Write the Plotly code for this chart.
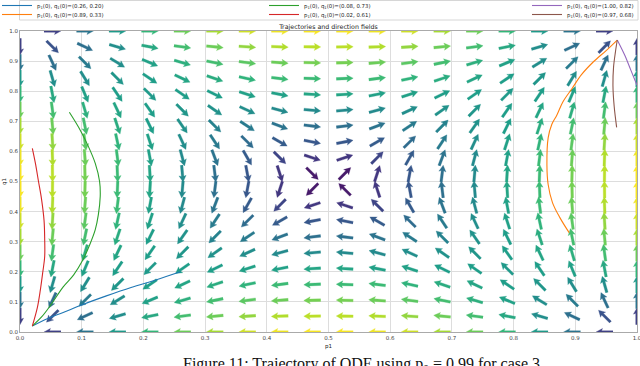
import numpy as np
import plotly.graph_objects as go
from plotly.colors import sample_colorscale

# ---------------- figure geometry ----------------
W, H = 640, 366
ML, MR, MT, MB = 20, 3, 31, 34
PW, PH = W - ML - MR, H - MT - MB

# ---------------- direction field parameters ----------------
grid_n = 20            # arrows per axis (linspace 0..1)
p_star = 0.5           # interior rest point (saddle)
q_star = 0.5

# ---------------- trajectories ----------------
traj_names = [
    "p<sub>1</sub>(0), q<sub>1</sub>(0)=(0.26, 0.20)",
    "p<sub>1</sub>(0), q<sub>1</sub>(0)=(0.89, 0.33)",
    "p<sub>1</sub>(0), q<sub>1</sub>(0)=(0.08, 0.73)",
    "p<sub>1</sub>(0), q<sub>1</sub>(0)=(0.02, 0.61)",
    "p<sub>1</sub>(0), q<sub>1</sub>(0)=(1.00, 0.82)",
    "p<sub>1</sub>(0), q<sub>1</sub>(0)=(0.97, 0.68)",
]
traj_colors = ["#1f77b4", "#ff7f0e", "#2ca02c", "#d62728", "#9467bd", "#8c564b"]

blue_p = [0.26, 0.22, 0.18, 0.14, 0.10, 0.07, 0.045, 0.02]
blue_q = [0.20, 0.173, 0.148, 0.12, 0.09, 0.065, 0.045, 0.02]

orange_p = [0.89, 0.875, 0.863, 0.856, 0.854, 0.856, 0.862, 0.87, 0.88, 0.895, 0.91, 0.929, 0.95, 0.968]
orange_q = [0.33, 0.38, 0.43, 0.49, 0.555, 0.645, 0.69, 0.72, 0.765, 0.81, 0.855, 0.897, 0.935, 0.97]

green_p = [0.08, 0.095, 0.11, 0.122, 0.129, 0.13, 0.127, 0.122, 0.113, 0.102, 0.087, 0.07, 0.05, 0.035, 0.02]
green_q = [0.73, 0.68, 0.62, 0.56, 0.50, 0.45, 0.39, 0.34, 0.29, 0.24, 0.19, 0.15, 0.09, 0.05, 0.02]

red_p = [0.02, 0.025, 0.03, 0.035, 0.039, 0.04, 0.04, 0.037, 0.033, 0.028, 0.02]
red_q = [0.61, 0.56, 0.50, 0.44, 0.37, 0.31, 0.25, 0.20, 0.14, 0.08, 0.02]

purple_p = [1.00, 0.99, 0.98, 0.968]
purple_q = [0.82, 0.87, 0.92, 0.97]

brown_p = [0.967, 0.963, 0.961, 0.962, 0.965, 0.968]
brown_q = [0.68, 0.75, 0.82, 0.88, 0.93, 0.97]

traj_p = [blue_p, orange_p, green_p, red_p, purple_p, brown_p]
traj_q = [blue_q, orange_q, green_q, red_q, purple_q, brown_q]

tick_vals = [0.0, 0.1, 0.2, 0.3, 0.4, 0.5, 0.6, 0.7, 0.8, 0.9, 1.0]
tick_text = ["0.0", "0.1", "0.2", "0.3", "0.4", "0.5", "0.6", "0.7", "0.8", "0.9", "1.0"]

# ---------------- arrow style (pixels) ----------------
ARROW_LEN = 17.0
SHAFT_W = 2.6
HEAD_W = 7.2
HEAD_LEN = 6.5
HEAD_AXIS = 5.6
N_BINS = 64

fig = go.Figure()

# direction field
gp = np.linspace(0, 1, grid_n)
P, Q = np.meshgrid(gp, gp)
DP = P * (1 - P) * (Q - q_star)
DQ = Q * (1 - Q) * (P - p_star)
M = np.hypot(DP, DQ)
mmin, mmax = M.min(), M.max()

sx, sy = PW / 1.0, PH / 1.0
L2 = ARROW_LEN / 2
outline = [(-L2, -SHAFT_W / 2), (L2 - HEAD_AXIS, -SHAFT_W / 2), (L2 - HEAD_LEN, -HEAD_W / 2),
           (L2, 0.0), (L2 - HEAD_LEN, HEAD_W / 2), (L2 - HEAD_AXIS, SHAFT_W / 2), (-L2, SHAFT_W / 2)]

bins = {}
for i in range(grid_n):
    for j in range(grid_n):
        m = M[i, j]
        if m <= 0:
            continue
        ux, uy = DP[i, j] / m, DQ[i, j] / m
        t = (m - mmin) / (mmax - mmin)
        b = min(int(t * N_BINS), N_BINS - 1)
        xs, ys = bins.setdefault(b, ([], []))
        for s, w in outline:
            px = s * ux - w * uy
            py = s * uy + w * ux
            xs.append(P[i, j] + px / sx)
            ys.append(Q[i, j] + py / sy)
        xs.append(None)
        ys.append(None)

for b in sorted(bins):
    xs, ys = bins[b]
    col = sample_colorscale("Viridis", [(b + 0.5) / N_BINS])[0]
    fig.add_trace(go.Scatter(x=xs, y=ys, mode="lines", fill="toself", fillcolor=col,
                             line=dict(color=col, width=0.3), showlegend=False, hoverinfo="skip"))

# trajectories, each in its own legend to reproduce the 3-column layout
legend_ids = ["legend", "legend2", "legend3", "legend4", "legend5", "legend6"]
for k in range(len(traj_names)):
    fig.add_trace(go.Scatter(x=traj_p[k], y=traj_q[k], mode="lines", name=traj_names[k],
                             line=dict(color=traj_colors[k], width=1.1, shape="spline"),
                             legend=legend_ids[k]))

def px_to_paper_x(px):
    return (px - ML) / PW

def px_to_paper_y(py):
    return (H - MB - py) / PH

leg_font = dict(family="DejaVu Sans", size=5.4, color="#222")
col_text_x = [37, 304, 567]
row_y = [5.5, 14.5]
layout_legends = {}
for idx, lid in enumerate(legend_ids):
    c, r = idx // 2, idx % 2
    layout_legends[lid] = dict(x=px_to_paper_x(col_text_x[c] - 40), y=px_to_paper_y(row_y[r]),
                               xanchor="left", yanchor="middle", bgcolor="rgba(0,0,0,0)",
                               borderwidth=0, font=leg_font, itemwidth=30)

axis_common = dict(range=[0, 1], tickvals=tick_vals, ticktext=tick_text, showgrid=True,
                   gridcolor="#dddddd", gridwidth=1, zeroline=False, showline=True,
                   linecolor="#aaaaaa", linewidth=1, mirror=True, ticks="",
                   ticklabeloverflow="allow",
                   tickfont=dict(family="DejaVu Sans", size=5.5, color="#444"))

fig.update_layout(
    width=W, height=H, margin=dict(l=ML, r=MR, t=MT, b=MB, autoexpand=False),
    paper_bgcolor="white", plot_bgcolor="white",
    title=dict(text="Trajectories and direction fields", x=0.5, xref="paper",
               y=1 - 26.5 / H, yref="container", yanchor="middle",
               font=dict(family="DejaVu Sans", size=6.3, color="#222")),
    xaxis=dict(**axis_common, title=dict(text="p1", standoff=4,
                                         font=dict(family="DejaVu Sans", size=5.5, color="#222"))),
    yaxis=dict(**axis_common, title=dict(text="q1", standoff=2,
                                         font=dict(family="DejaVu Sans", size=5.5, color="#222"))),
    **layout_legends,
)

# legend frame
fig.add_shape(type="rect", xref="paper", yref="paper",
              x0=px_to_paper_x(19.5), x1=px_to_paper_x(638), y0=px_to_paper_y(20), y1=px_to_paper_y(0.5),
              line=dict(color="#cccccc", width=0.8), fillcolor="rgba(0,0,0,0)", layer="below")

# figure caption (cut off at the bottom, as in the reference)
fig.add_annotation(text="Figure 11: Trajectory of ODE using p<sub>0</sub> = 0.99 for case 3",
                   xref="paper", yref="paper", x=px_to_paper_x(181), y=px_to_paper_y(364),
                   xanchor="left", yanchor="middle", showarrow=False,
                   font=dict(family="Liberation Serif", size=16, color="#111"))

fig.write_html("out.html", config={"displayModeBar": False},
               post_script="document.body.style.margin='0';document.body.style.padding='0';")
